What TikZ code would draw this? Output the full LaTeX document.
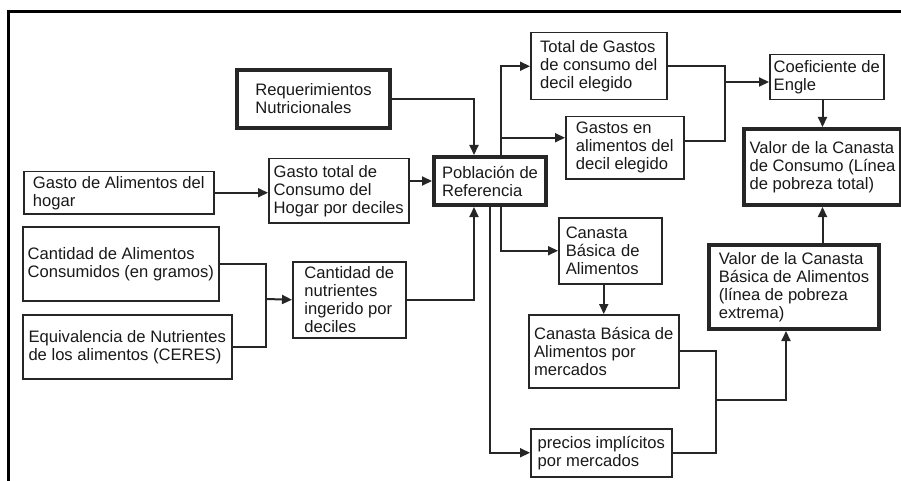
\documentclass[tikz,border=0pt]{standalone}
\usepackage{fontspec}
\setmainfont{Liberation Sans}
\usetikzlibrary{arrows.meta}
\begin{document}
\begin{tikzpicture}
      [x=1pt, y=-1pt, >={Triangle[length=10pt, width=9pt]},
       font={\fontsize{16.6}{18}\selectfont},
       caja/.style={draw=black!85, line width=1.5pt, anchor=north west,
         align=left, inner sep=0pt, text=black!90},
       gruesa/.style={caja, line width=4pt},
       linea/.style={draw=black!85, line width=2pt}]
      \useasboundingbox (0, 0) rectangle (901, 481);
      \draw[line width=3pt] (8, 481) -- (8, 12) -- (901, 12);

      % columna izquierda
      \node[gruesa, minimum width=153pt, minimum height=58pt] (req) at (235, 68) {Requerimientos\\Nutricionales};
      \node[caja, minimum width=190pt, minimum height=42pt] (gastoalim) at (23, 171) {Gasto de Alimentos del\\hogar};
      \node[caja, minimum width=140pt, minimum height=64pt] (gastotot) at (268, 158) {Gasto total de\\Consumo del\\Hogar por deciles};
      \node[gruesa, minimum width=112pt, minimum height=48pt] (pobl) at (432, 155) {Población de\\Referencia};
      \node[caja, minimum width=196pt, minimum height=74pt] (cantalim) at (22, 226) {Cantidad de Alimentos\\Consumidos (en gramos)};
      \node[caja, minimum width=209pt, minimum height=64pt] (equiv) at (22, 314) {Equivalencia de Nutrientes\\de los alimentos (CERES)};
      \node[caja, minimum width=113pt, minimum height=76pt] (cantnut) at (292, 261) {Cantidad de\\nutrientes\\ingerido por\\deciles};

      % columna derecha
      \node[caja, minimum width=136pt, minimum height=67pt] (total) at (530, 32) {Total de Gastos\\de consumo del\\decil elegido};
      \node[caja, minimum width=118pt, minimum height=62pt] (gastosal) at (565, 116) {Gastos en\\alimentos del\\decil elegido};
      \node[caja, minimum width=114pt, minimum height=45pt] (coef) at (769, 54) {Coeficiente de\\Engle};
      \node[gruesa, minimum width=157pt, minimum height=76pt] (valorcons) at (742, 127) {Valor de la Canasta\\de Consumo (Línea\\de pobreza total)};
      \node[caja, minimum width=103pt, minimum height=66pt, text width=89pt] (canasta) at (558, 217) {Canasta\\Básica de\\Alimentos};
      \node[caja, minimum width=150pt, minimum height=73pt] (canmerc) at (528, 314) {Canasta Básica de\\Alimentos por\\mercados};
      \node[caja, minimum width=141pt, minimum height=48pt] (precios) at (530, 428) {precios implícitos\\por mercados};
      \node[gruesa, minimum width=170pt, minimum height=84pt] (valorb) at (707, 243) {Valor de la Canasta\\Básica de Alimentos\\(línea de pobreza\\extrema)};

      % conectores
      \draw[linea, ->] (gastoalim.east) -- (gastoalim.east -| gastotot.west);
      \draw[linea, ->] (pobl.west -| gastotot.east) -- (pobl.west);
      \draw[linea, ->] (req.east) -| ([xshift=-16pt]pobl.north);
      \draw[linea, ->] (cantnut.east) -| ([xshift=-16pt]pobl.south);
      \coordinate (nutjunta) at (266, 299);
      \draw[linea] (cantalim.east) -| (nutjunta);
      \draw[linea] (equiv.east) -| (nutjunta);
      \draw[linea, ->] (nutjunta) -- (cantnut.west);

      \draw[linea, ->] ([xshift=11pt]pobl.north) |- (total.west);
      \draw[linea, ->] ([xshift=11pt]pobl.north) |- ([yshift=10pt]gastosal.west);
      \coordinate (englejunta) at (725, 82);
      \draw[linea] (total.east) -| (englejunta);
      \draw[linea] ([yshift=7pt]gastosal.east) -| (englejunta);
      \draw[linea, ->] (englejunta) -- (englejunta -| coef.west);
      \draw[linea, ->] (coef.south -| valorcons.north) -- (valorcons.north);
      \draw[linea, ->] (valorb.north -| valorcons.south) -- (valorcons.south);

      \draw[linea, ->] ([xshift=11pt]pobl.south) |- (canasta.west);
      \draw[linea, ->] (pobl.south) |- (precios.west);
      \draw[linea, ->] (canasta.south -| canmerc.north) -- (canmerc.north);
      \coordinate (mercjunta) at (716, 400);
      \draw[linea] (canmerc.east) -| (mercjunta);
      \draw[linea] (precios.east) -| (mercjunta);
      \draw[linea, ->] (mercjunta) -| ([xshift=-8pt]valorb.south);
\end{tikzpicture}
\end{document}
